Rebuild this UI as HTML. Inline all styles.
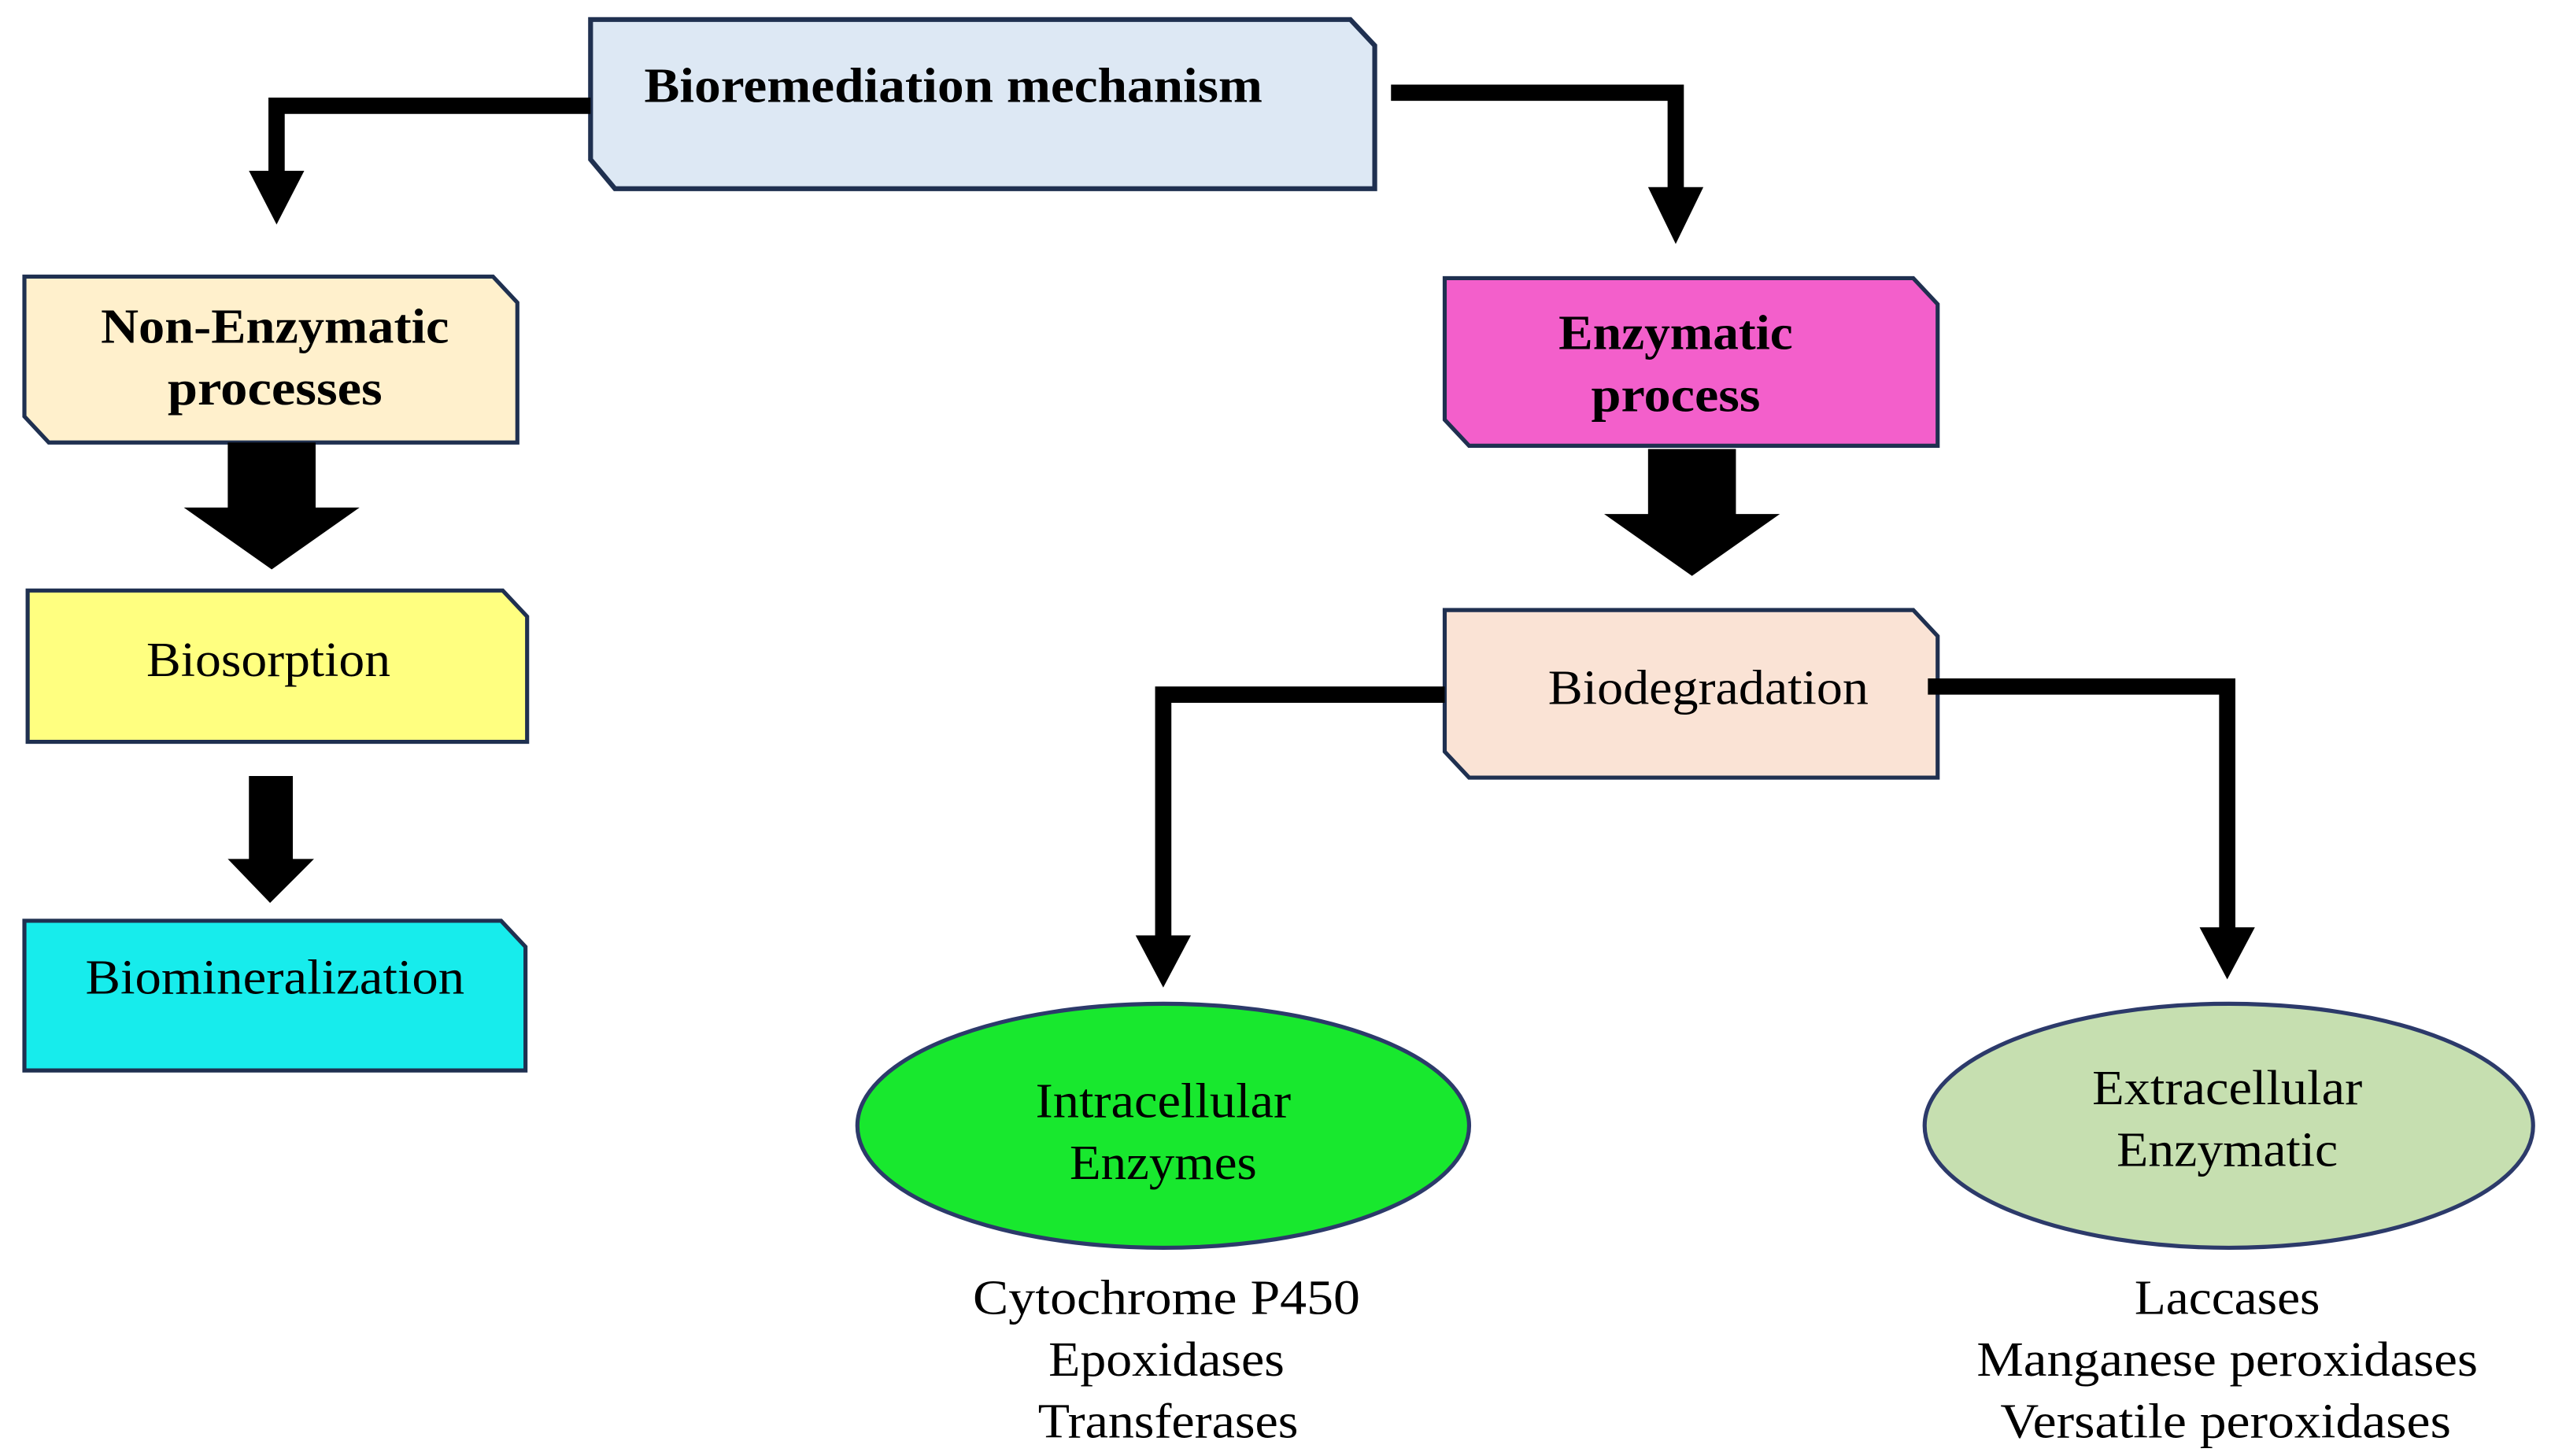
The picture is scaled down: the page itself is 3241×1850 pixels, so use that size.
<!DOCTYPE html>
<html><head><meta charset="utf-8"><style>html,body{margin:0;padding:0;background:#fff}svg{display:block}</style></head>
<body>
<svg width="3241" height="1850" viewBox="0 0 1568 895" preserveAspectRatio="none" xmlns="http://www.w3.org/2000/svg" font-family="'Liberation Serif', serif" text-anchor="middle" dominant-baseline="central">
<g stroke="#1f3050" stroke-width="2.5">
<polygon points="363,12 830,12 845,28 845,116 378,116 363,98" fill="#dde8f4" stroke-width="3"/>
<polygon points="15,170 303,170 318,186 318,272 30,272 15,256" fill="#fff0cc"/>
<polygon points="17,363 309,363 324,379 324,456 17,456" fill="#ffff80"/>
<polygon points="15,566 308,566 323,582 323,658 15,658" fill="#17ecec"/>
<polygon points="888,171 1176,171 1191,187 1191,274 903,274 888,258" fill="#f35fcb"/>
<polygon points="888,375 1176,375 1191,391 1191,478 903,478 888,462" fill="#fae3d5"/>
<ellipse cx="715" cy="692" rx="188" ry="75" fill="#18e82e" stroke="#2c3a6a"/>
<ellipse cx="1370" cy="692" rx="187" ry="75" fill="#c6dfb0" stroke="#2c3a6a"/>
</g>
<g fill="none" stroke="#000" stroke-width="10">
<polyline points="363,65 170,65 170,108"/>
<polyline points="855,57 1030,57 1030,118"/>
<polyline points="888,427 715,427 715,578"/>
<polyline points="1185,422 1369,422 1369,573"/>
</g>
<g fill="#000">
<polygon points="153,105 187,105 170,138"/>
<polygon points="1013,115 1047,115 1030,150"/>
<polygon points="698,575 732,575 715,607"/>
<polygon points="1352,570 1386,570 1369,602"/>
<polygon points="140,272 194,272 194,312 221,312 167,350 113,312 140,312"/>
<polygon points="153,477 180,477 180,528 193,528 166,555 140,528 153,528"/>
<polygon points="1013,276 1067,276 1067,316 1094,316 1040,354 986,316 1013,316"/>
</g>
<g font-size="30" fill="#000" lengthAdjust="spacingAndGlyphs">
<text x="586" y="53" font-weight="bold" textLength="380" lengthAdjust="spacingAndGlyphs">Bioremediation mechanism</text>
<text x="169" y="201" font-weight="bold" textLength="214" lengthAdjust="spacingAndGlyphs">Non-Enzymatic</text>
<text x="169" y="239" font-weight="bold" textLength="132" lengthAdjust="spacingAndGlyphs">processes</text>
<text x="165" y="406" textLength="150" lengthAdjust="spacingAndGlyphs">Biosorption</text>
<text x="169" y="601" textLength="233" lengthAdjust="spacingAndGlyphs">Biomineralization</text>
<text x="1030" y="205" font-weight="bold" textLength="144" lengthAdjust="spacingAndGlyphs">Enzymatic</text>
<text x="1030" y="243" font-weight="bold" textLength="104" lengthAdjust="spacingAndGlyphs">process</text>
<text x="1050" y="423" textLength="197" lengthAdjust="spacingAndGlyphs">Biodegradation</text>
<text x="715" y="677" textLength="157" lengthAdjust="spacingAndGlyphs">Intracellular</text>
<text x="715" y="715" textLength="115" lengthAdjust="spacingAndGlyphs">Enzymes</text>
<text x="1369" y="669" textLength="166" lengthAdjust="spacingAndGlyphs">Extracellular</text>
<text x="1369" y="707" textLength="136" lengthAdjust="spacingAndGlyphs">Enzymatic</text>
<text x="717" y="798" textLength="238" lengthAdjust="spacingAndGlyphs">Cytochrome P450</text>
<text x="717" y="836" textLength="145" lengthAdjust="spacingAndGlyphs">Epoxidases</text>
<text x="718" y="874" textLength="160" lengthAdjust="spacingAndGlyphs">Transferases</text>
<text x="1369" y="798" textLength="114" lengthAdjust="spacingAndGlyphs">Laccases</text>
<text x="1369" y="836" textLength="308" lengthAdjust="spacingAndGlyphs">Manganese peroxidases</text>
<text x="1368" y="874" textLength="277" lengthAdjust="spacingAndGlyphs">Versatile peroxidases</text>
</g>
</svg>
</body></html>
